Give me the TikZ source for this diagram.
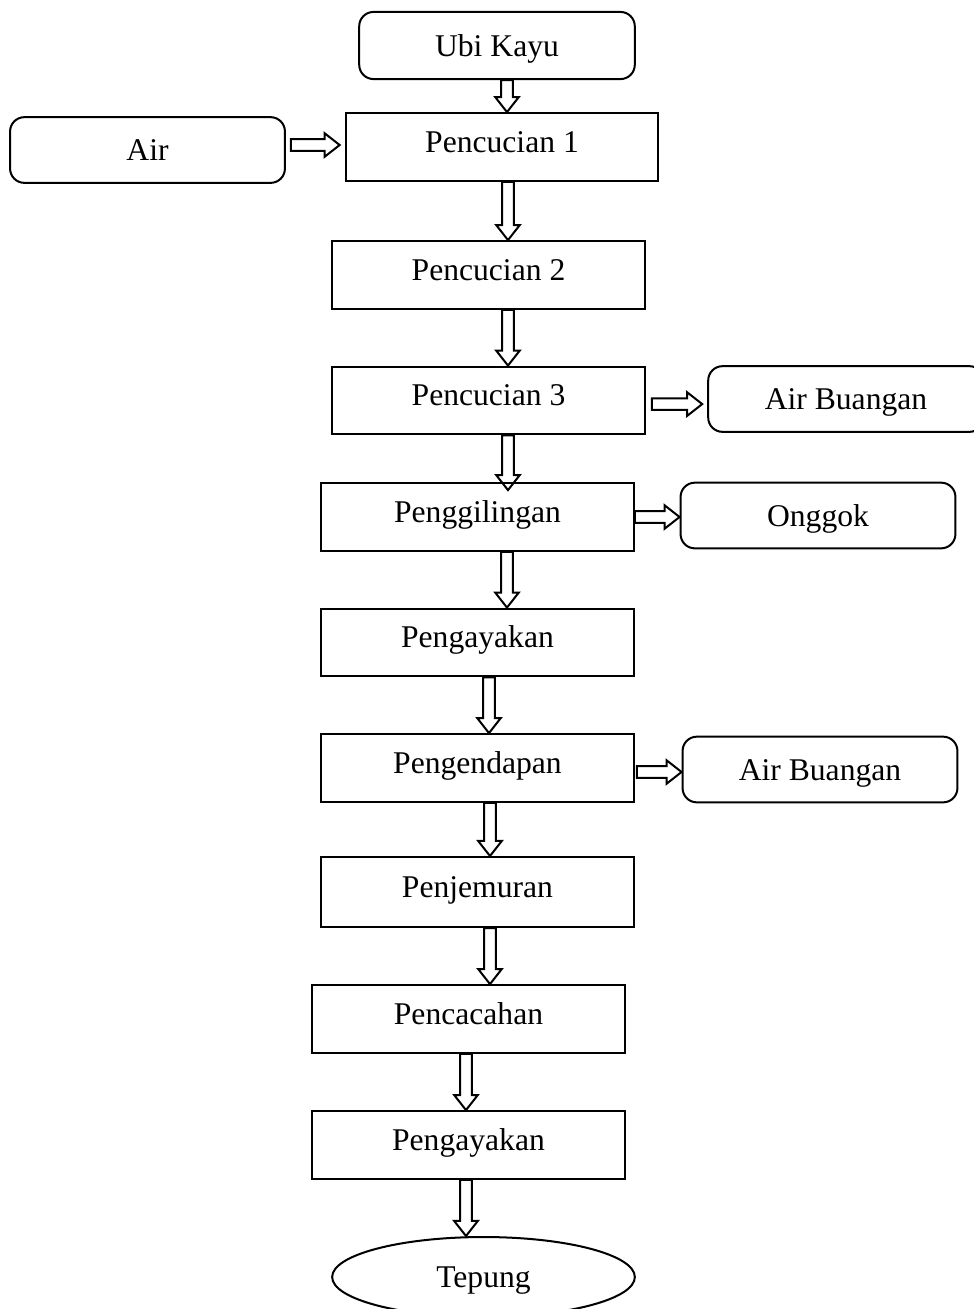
\documentclass[tikz,border=0pt]{standalone}
\usepackage{fontspec}
\setmainfont{Liberation Serif}
\usetikzlibrary{shapes.geometric}
\def\arrsw{2.3pt}
\def\arrhw{4.7pt}
\def\arrhl{6pt}
\tikzset{
  proc/.style={draw,line width=0.8pt,minimum width=4.38cm,minimum height=0.95cm,
    inner sep=0pt,text height=9pt,text depth=5pt,font=\fontsize{12.6}{15}\selectfont},
  side/.style={proc,rounded corners=0.2cm,minimum width=3.85cm,minimum height=0.92cm,
    text depth=0.6pt},
  prod/.style={proc,ellipse,minimum width=4.24cm,minimum height=1.12cm,text depth=0.6pt},
  varrow/.style={draw,line width=0.8pt,line join=miter,to path={
    (\tikztostart |- \tikztotarget) coordinate (tip)
    ([xshift=-\arrsw]\tikztostart) -- ([xshift=-\arrsw,yshift=\arrhl]tip)
    -- ([xshift=-\arrhw,yshift=\arrhl]tip) -- (tip)
    -- ([xshift=\arrhw,yshift=\arrhl]tip) -- ([xshift=\arrsw,yshift=\arrhl]tip)
    -- ([xshift=\arrsw]\tikztostart) -- cycle}},
  harrow/.style={draw,line width=0.8pt,line join=miter,to path={
    (\tikztostart -| \tikztotarget) coordinate (tip)
    ([yshift=\arrsw]\tikztostart) -- ([xshift=-\arrhl,yshift=\arrsw]tip)
    -- ([xshift=-\arrhl,yshift=\arrhw]tip) -- (tip)
    -- ([xshift=-\arrhl,yshift=-\arrhw]tip) -- ([xshift=-\arrhl,yshift=-\arrsw]tip)
    -- ([yshift=-\arrsw]\tikztostart) -- cycle}}
}
\begin{document}
\begin{tikzpicture}[x=0.014cm,y=-0.014cm]
  \useasboundingbox (0,0) rectangle (974,1309);
  \node[side,minimum width=3.86cm,minimum height=0.94cm] (ubi) at (497,45.5) {Ubi Kayu};
  \node[side] (air) at (147.5,150) {Air};
  \node[proc] (pc1) at (502,147) {Pencucian 1};
  \node[proc] (pc2) at (488.5,275) {Pencucian 2};
  \node[proc] (pc3) at (488.5,400.5) {Pencucian 3};
  \node[side,minimum width=3.86cm] (ab1) at (846,399) {Air Buangan};
  \node[proc] (ggl) at (477.5,517) {Penggilingan};
  \node[side] (ong) at (818,515.5) {Onggok};
  \node[proc] (ayk) at (477.5,642.5) {Pengayakan};
  \node[proc] (edp) at (477.5,768) {Pengendapan};
  \node[side] (ab2) at (820,769.5) {Air Buangan};
  \node[proc,minimum height=0.98cm] (jem) at (477.5,892) {Penjemuran};
  \node[proc] (cac) at (468.5,1019) {Pencacahan};
  \node[proc] (ayk2) at (468.5,1145) {Pengayakan};
  \node[prod] (tep) at (483.5,1277) {Tepung};

  \draw[varrow] ([xshift=0.14cm]ubi.south) to (pc1.north);
  \draw[harrow] ([xshift=0.07cm,yshift=0.07cm]air.east) to ([xshift=-0.07cm]pc1.west);
  \draw[varrow] ([xshift=0.084cm]pc1.south) to (pc2.north);
  \draw[varrow] ([xshift=0.273cm]pc2.south) to (pc3.north);
  \draw[harrow] ([xshift=0.084cm,yshift=-0.05cm]pc3.east) to ([xshift=-0.07cm]ab1.west);
  \draw[varrow] ([xshift=0.273cm]pc3.south) to ([yshift=-0.112cm]ggl.north);
  \draw[harrow] (ggl.east) to (ong.west);
  \draw[varrow] ([xshift=0.413cm]ggl.south) to (ayk.north);
  \draw[varrow] ([xshift=0.161cm]ayk.south) to (edp.north);
  \draw[harrow] ([xshift=0.028cm,yshift=-0.056cm]edp.east) to (ab2.west);
  \draw[varrow] ([xshift=0.175cm]edp.south) to (jem.north);
  \draw[varrow] ([xshift=0.175cm]jem.south) to (cac.north);
  \draw[varrow] ([xshift=-0.035cm]cac.south) to (ayk2.north);
  \draw[varrow] ([xshift=-0.035cm]ayk2.south) to (tep.north);
\end{tikzpicture}
\end{document}
